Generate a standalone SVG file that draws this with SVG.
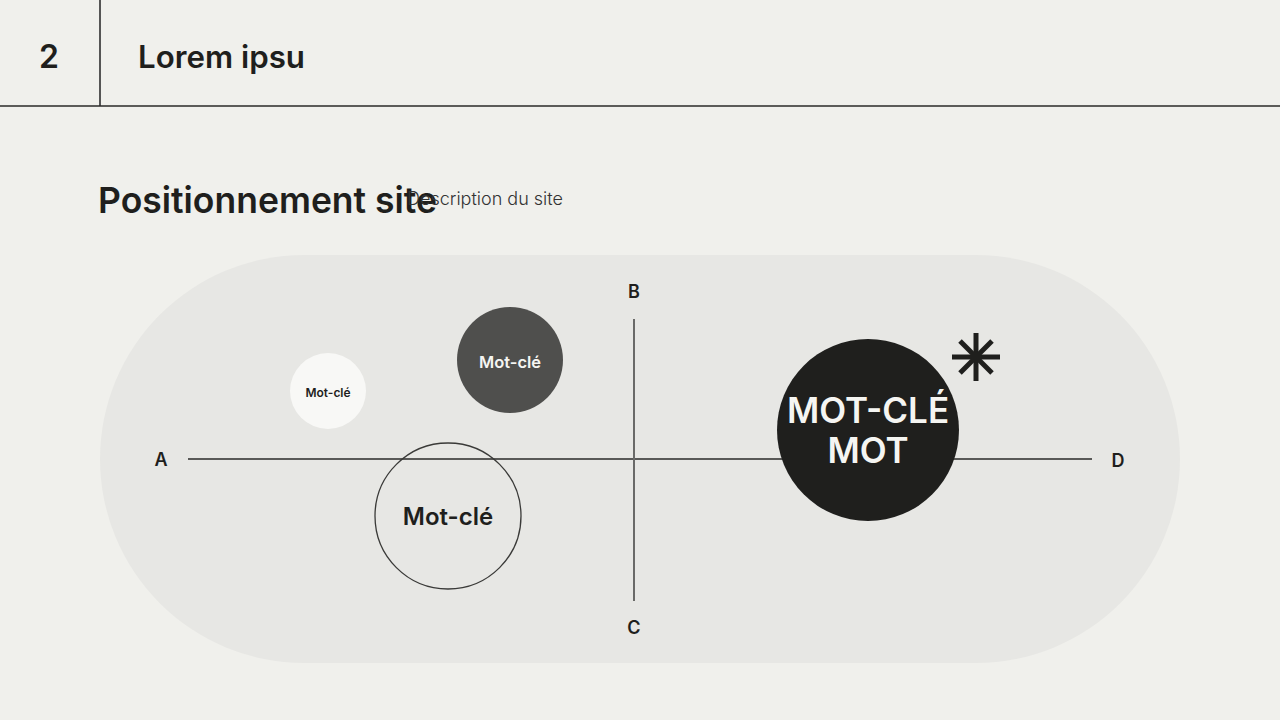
<svg xmlns="http://www.w3.org/2000/svg" width="1280" height="720" viewBox="0 0 1280 720">
<style>
text{font-family:Inter,"Liberation Sans",sans-serif;fill:#1f1f1d}
.hdr{font-weight:600}
.lbl{font-size:18px;font-weight:600;text-anchor:middle}
.kw{text-anchor:middle;font-weight:600}
.axis{stroke:#2a2a28;stroke-width:1.3;fill:none}
</style>
<rect width="1280" height="720" fill="#f0f0ec"/>
<g id="header">
<line x1="100" y1="0" x2="100" y2="106" stroke="#555" stroke-width="2"/>
<line x1="0" y1="106" x2="1280" y2="106" stroke="#2a2a28" stroke-width="1.3"/>
<text class="hdr" x="49" y="68" font-size="32" text-anchor="middle">2</text>
<text class="hdr" x="138" y="68" font-size="31" textLength="167" lengthAdjust="spacingAndGlyphs">Lorem ipsu</text>
</g>
<g id="title">
<text class="hdr" x="98" y="213" font-size="35.5">Positionnement site</text>
<text x="407" y="205" font-size="18" font-weight="300" style="fill:#333">Description du site</text>
</g>
<rect id="zone" x="100" y="255" width="1080" height="408" rx="204" fill="#e7e7e4"/>
<g id="connectors">
<line class="axis" x1="188" y1="459" x2="1092" y2="459"/>
<line x1="634" y1="319" x2="634" y2="601" stroke="#6a6a68" stroke-width="2"/>
</g>
<g id="labels">
<text class="lbl" x="161" y="466">A</text>
<text class="lbl" x="634" y="298">B</text>
<text class="lbl" x="634" y="634">C</text>
<text class="lbl" x="1118" y="467">D</text>
</g>
<g id="node-white">
<circle cx="328" cy="391" r="38" fill="#f8f8f6"/>
<text class="kw" x="328" y="397" font-size="12">Mot-clé</text>
</g>
<g id="node-grey">
<circle cx="510" cy="360" r="53" fill="#4f4f4d"/>
<text class="kw" x="510" y="368" font-size="16.5" style="fill:#f5f5f2">Mot-clé</text>
</g>
<g id="node-outline">
<circle cx="448" cy="516" r="73" fill="none" stroke="#3a3a38" stroke-width="1.3"/>
<text class="kw" x="448" y="525" font-size="24">Mot-clé</text>
</g>
<g id="node-main">
<circle cx="868" cy="430" r="91" fill="#1f1f1d"/>
<text class="kw" x="868" y="423" font-size="35" font-weight="500" style="fill:#f5f5f2">MOT-CLÉ</text>
<text class="kw" x="868" y="463" font-size="35" font-weight="500" style="fill:#f5f5f2">MOT</text>
</g>
<g id="asterisk" stroke="#1f1f1d" stroke-width="5" transform="translate(976,357)">
<line x1="-24" y1="0" x2="24" y2="0"/>
<line x1="0" y1="-24" x2="0" y2="24"/>
<line x1="-16" y1="-16" x2="16" y2="16"/>
<line x1="-16" y1="16" x2="16" y2="-16"/>
</g>
</svg>
